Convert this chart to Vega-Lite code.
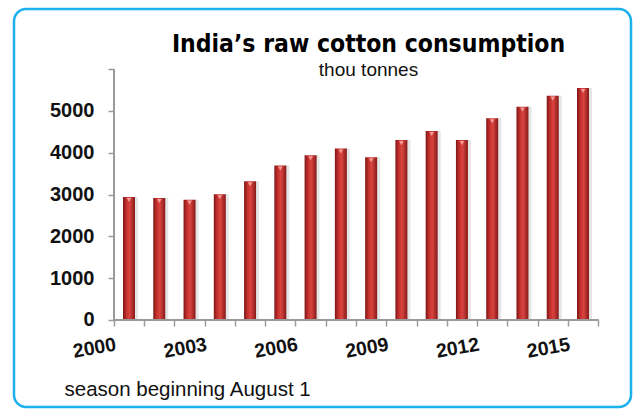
{
  "$schema": "https://vega.github.io/schema/vega-lite/v6.json",
  "autosize": {"type": "none"},
  "padding": {"left": 14, "top": 9, "right": 3, "bottom": 2},
  "width": 617,
  "height": 398,
  "background": "white",
  "config": {
    "view": {"stroke": "#1cb0ec", "strokeWidth": 2.5, "cornerRadius": 12, "fill": "white"}
  },
  "title": {
    "text": "India’s raw cotton consumption",
    "subtitle": "thou tonnes",
    "anchor": "middle",
    "frame": "group",
    "dx": 46,
    "offset": -72,
    "font": "DejaVu Sans Condensed",
    "fontSize": 24.5,
    "fontWeight": "bold",
    "color": "#000000",
    "subtitleFont": "Liberation Sans",
    "subtitleFontSize": 19,
    "subtitleColor": "#111111",
    "subtitlePadding": 4
  },
  "data": {
    "values": [
      {"year": 2000, "value": 2940},
      {"year": 2001, "value": 2916},
      {"year": 2002, "value": 2877},
      {"year": 2003, "value": 3005},
      {"year": 2004, "value": 3317},
      {"year": 2005, "value": 3693},
      {"year": 2006, "value": 3940},
      {"year": 2007, "value": 4100},
      {"year": 2008, "value": 3892},
      {"year": 2009, "value": 4300},
      {"year": 2010, "value": 4516},
      {"year": 2011, "value": 4300},
      {"year": 2012, "value": 4820},
      {"year": 2013, "value": 5100},
      {"year": 2014, "value": 5363},
      {"year": 2015, "value": 5547}
    ]
  },
  "layer": [
    {
      "mark": {"type": "bar", "size": 12, "xOffset": 3, "color": "#000000", "opacity": 0.1},
      "encoding": {
        "x": {"field": "year", "type": "quantitative",
              "scale": {"domain": [1996.2005, 2016.5858], "nice": false, "zero": false, "padding": 0},
              "axis": {
                "title": "season beginning August 1",
                "values": [1999.5, 2000.5, 2001.5, 2002.5, 2003.5, 2004.5, 2005.5, 2006.5, 2007.5, 2008.5, 2009.5, 2010.5, 2011.5, 2012.5, 2013.5, 2014.5, 2015.5],
                "tickCount": 40,
                "labelExpr": "(datum.value + 0.5 - 2000) % 3 == 0 ? format(datum.value + 0.5, 'd') : ''",
                "offset": -87,
                "domain": false,
                "grid": false,
                "ticks": true,
                "tickSize": 6,
                "tickColor": "#9a9a9a",
                "tickWidth": 1.5,
                "labelAngle": -10,
                "labelAlign": "right",
                "labelBaseline": "top",
                "labelDx": 14,
                "labelPadding": 9,
                "labelFont": "Liberation Sans",
                "labelFontSize": 19.5,
                "labelFontWeight": "bold",
                "labelColor": "#111111",
                "labelOverlap": false,
                "labelFlush": false,
                "titleFont": "Liberation Sans",
                "titleFontSize": 20.5,
                "titleFontWeight": "normal",
                "titleColor": "#111111",
                "titleAlign": "left",
                "titleBaseline": "alphabetic",
                "titleX": 50,
                "titleY": 75
              }},
        "y": {"field": "value", "type": "quantitative", "stack": null,
              "scale": {"domain": [-2079.7, 7434.3], "nice": false, "zero": false},
              "axis": {
                "title": null,
                "values": [0, 1000, 2000, 3000, 4000, 5000, 6000],
                "tickCount": 20,
                "labelExpr": "datum.value == 6000 ? '' : format(datum.value, 'd')",
                "offset": -100,
                "domain": false,
                "grid": false,
                "tickSize": 6,
                "tickColor": "#9a9a9a",
                "tickWidth": 1.5,
                "labelPadding": 14,
                "labelFont": "Liberation Sans",
                "labelFontSize": 20,
                "labelFontWeight": "bold",
                "labelColor": "#111111"
              }},
        "y2": {"datum": 0}
      }
    },
    {
      "mark": {"type": "bar", "size": 12,
               "color": {"gradient": "linear", "x1": 0, "x2": 1, "y1": 0, "y2": 0,
                         "stops": [{"offset": 0, "color": "#7e1616"}, {"offset": 0.3, "color": "#c5312e"}, {"offset": 0.55, "color": "#d9443f"}, {"offset": 1, "color": "#861919"}]}},
      "encoding": {
        "x": {"field": "year", "type": "quantitative", "scale": {"domain": [1996.2005, 2016.5858], "nice": false, "zero": false, "padding": 0}},
        "y": {"field": "value", "type": "quantitative", "stack": null, "scale": {"domain": [-2079.7, 7434.3], "nice": false, "zero": false}},
        "y2": {"datum": 0}
      }
    },
    {
      "mark": {"type": "point", "shape": "triangle-down", "filled": true, "color": "#f49a96", "size": 22, "yOffset": 3, "opacity": 1},
      "encoding": {
        "x": {"field": "year", "type": "quantitative", "scale": {"domain": [1996.2005, 2016.5858], "nice": false, "zero": false, "padding": 0}},
        "y": {"field": "value", "type": "quantitative", "scale": {"domain": [-2079.7, 7434.3], "nice": false, "zero": false}}
      }
    },
    {
      "mark": {"type": "rule", "color": "#9a9a9a", "strokeWidth": 1.5},
      "encoding": {
        "x": {"datum": 1999.5, "type": "quantitative", "scale": {"domain": [1996.2005, 2016.5858], "nice": false, "zero": false, "padding": 0}},
        "y": {"datum": 0, "type": "quantitative", "scale": {"domain": [-2079.7, 7434.3], "nice": false, "zero": false}},
        "y2": {"datum": 6000}
      }
    },
    {
      "mark": {"type": "rule", "color": "#9a9a9a", "strokeWidth": 1.5},
      "encoding": {
        "x": {"datum": 1999.5, "type": "quantitative", "scale": {"domain": [1996.2005, 2016.5858], "nice": false, "zero": false, "padding": 0}},
        "x2": {"datum": 2015.5},
        "y": {"datum": 0, "type": "quantitative", "scale": {"domain": [-2079.7, 7434.3], "nice": false, "zero": false}}
      }
    }
  ]
}
